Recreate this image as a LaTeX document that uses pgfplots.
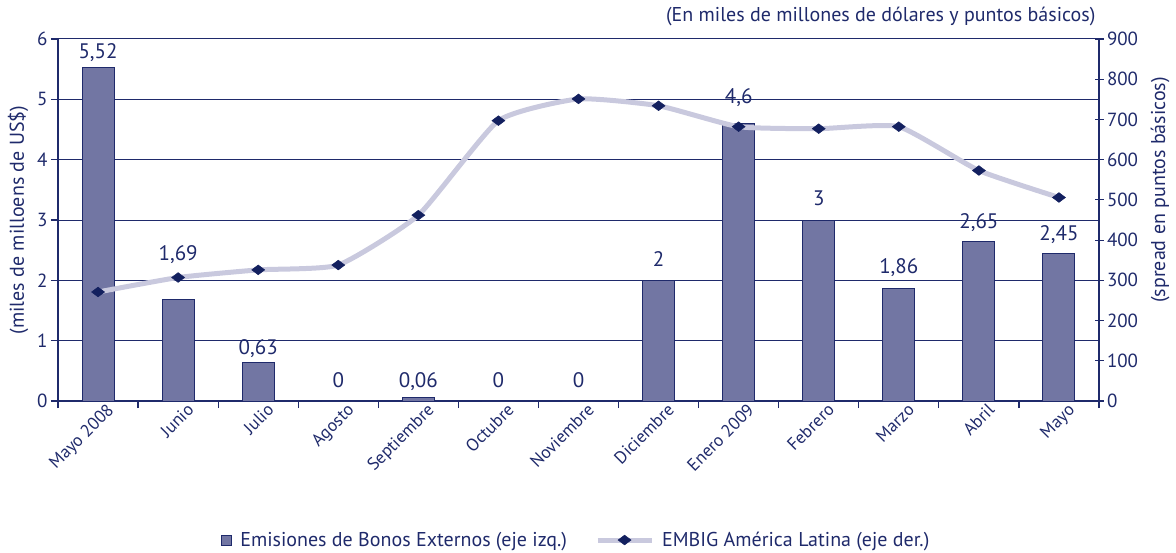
\documentclass[border=0pt]{standalone}
\usepackage{fontspec}
\setmainfont{PT Sans}
\usepackage{pgfplots}
\usepackage{pgfplotstable}
\pgfplotsset{compat=1.18}
\definecolor{navy}{HTML}{1F2A6B}
\definecolor{barfill}{HTML}{7276A3}
\definecolor{linec}{HTML}{C9C9DE}
\definecolor{markc}{HTML}{13205F}

\pgfplotsset{mylinelegend/.style={legend image code/.code={\draw[##1, mark repeat=2, mark phase=2] plot coordinates {(0pt,0pt) (27pt,0pt) (54pt,0pt)};}}}

\pgfplotstableread{
x y lab dy
0 5.52 {5,52} 9
1 1.69 {1,69} 39
2 0.63 {0,63} 8
3 0 {0} 14
4 0.06 {0,06} 10
5 0 {0} 14
6 0 {0} 14
7 2 {2} 14
8 4.6 {4,6} 20
9 3 {3} 15
10 1.86 {1,86} 15
11 2.65 {2,65} 13
12 2.45 {2,45} 13
}\bonos

\pgfplotstableread{
x y
0 271
1 307
2 326
3 338
4 462
5 697
6 751
7 734
8 682
9 677
10 682
11 573
12 506
}\embig

\begin{document}
\begin{tikzpicture}[x=1pt,y=1pt]
\path[use as bounding box] (-58,-151) rectangle (1118,401);
\begin{axis}[
  at={(0,0)}, anchor=south west,
  width=1041pt, height=362pt, scale only axis,
  xmin=-0.5, xmax=12.5, ymin=0, ymax=6,
  /pgf/number format/assume math mode=true,
  axis x line=bottom, axis y line=left,
  x axis line style={-, navy, line width=2.6pt},
  y axis line style={-, navy, line width=2.2pt},
  ytick={0,...,6},
  ymajorgrids, grid style={navy, line width=1pt},
  tick align=outside,
  ytick style={navy, line width=1.2pt},
  major tick length=7pt,
  xtick={-0.5,0.5,...,12.5},
  xticklabels={},
  xtick style={navy, line width=1.2pt},
  extra x ticks={0,...,12},
  extra x tick labels={Mayo 2008,Junio,Julio,Agosto,Septiembre,Octubre,Noviembre,Diciembre,Enero 2009,Febrero,Marzo,Abril,Mayo},
  extra x tick style={major tick length=0pt, grid=none},
  xticklabel style={rotate=45, anchor=north east, font=\fontsize{17.5}{19}\selectfont, text=navy, xshift=8pt, yshift=-3pt},
  yticklabel style={font=\fontsize{19}{21}\selectfont, text=navy},
  ylabel={(miles de milloens de US\$)},
  ylabel style={at={(axis description cs:-0.0384,0.5)}, anchor=center, font=\fontsize{20}{22}\selectfont, text=navy},
  title={(En miles de millones de dólares y puntos básicos)},
  title style={at={(axis description cs:1,1.032)}, anchor=base east, font=\fontsize{20}{22}\selectfont, text=navy},
  clip=false,
]
\addplot[ybar, bar width=32pt, bar shift=0pt, fill=barfill, draw=navy, line width=1pt,
  nodes near coords, point meta=explicit symbolic,
  visualization depends on={\thisrow{dy} \as \labdy},
  every node near coord/.append style={font=\fontsize{21}{23}\selectfont, text=navy, anchor=base, inner sep=0pt, yshift=\labdy*1pt}]
  table[x=x, y=y, meta=lab] {\bonos};
\end{axis}
\begin{axis}[
  at={(0,0)}, anchor=south west,
  width=1041pt, height=362pt, scale only axis,
  xmin=-0.5, xmax=12.5, ymin=0, ymax=900,
  /pgf/number format/assume math mode=true,
  axis x line=none, axis y line=right,
  y axis line style={-, navy, line width=1.6pt},
  ytick={0,100,...,900},
  ytick style={navy, line width=1.2pt},
  tick align=center, major tick length=9pt,
  yticklabel style={font=\fontsize{19}{21}\selectfont, text=navy, xshift=0pt},
  ylabel={(spread en puntos básicos)},
  ylabel style={at={(axis description cs:1.0586,0.583)}, anchor=center, font=\fontsize{20}{22}\selectfont, text=navy},
  legend columns=2,
  legend style={at={(axis description cs:0.498,-0.384)}, anchor=center, draw=none, fill=none,
    font=\fontsize{20}{22}\selectfont, text=navy,
    /tikz/every odd column/.append style={column sep=6pt},
    /tikz/every even column/.append style={column sep=26pt}},
  clip=false,
]
\addlegendimage{legend image code/.code={\draw[fill=barfill, draw=navy, line width=0.8pt] (0pt,-5pt) rectangle (10pt,5pt);}}
\addlegendentry{Emisiones de Bonos Externos (eje izq.)}
\addplot[linec, line width=5pt, smooth, tension=0.3,
  mark=diamond*, mark size=6.5pt,
  mark options={fill=markc, draw=markc, line width=0.5pt, rotate=90, solid},
  mylinelegend]
  table[x=x, y=y] {\embig};
\addlegendentry{EMBIG América Latina (eje der.)}
\end{axis}
\end{tikzpicture}
\end{document}
